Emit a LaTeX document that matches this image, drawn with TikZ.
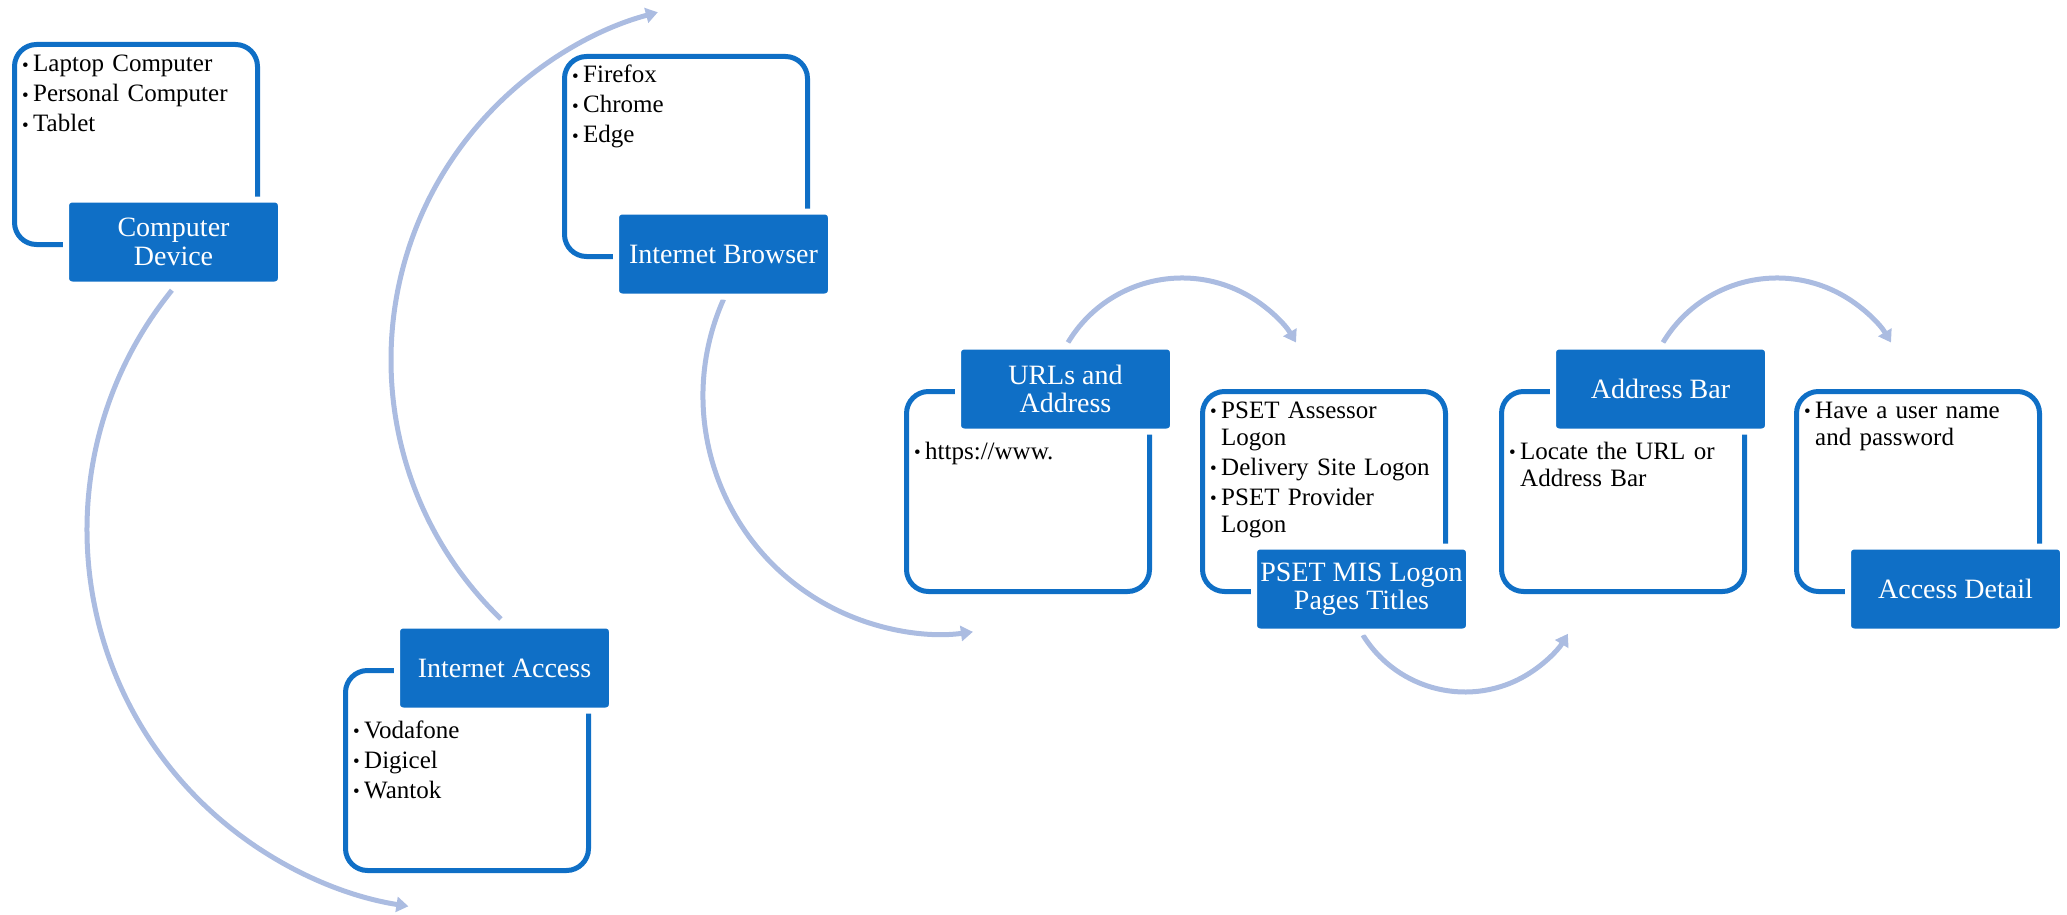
\documentclass[tikz,border=0pt]{standalone}
\usepackage{fontspec}
\setmainfont{Liberation Serif}
\usetikzlibrary{arrows.meta,calc}
\definecolor{mainblue}{HTML}{0F6FC6}
\definecolor{arrblue}{HTML}{ABBCE1}
\newcommand{\blt}{\makebox[11pt][l]{\fontsize{19}{19}\selectfont\raisebox{0.5pt}{\textbullet}}}
\newcommand{\ind}{\hspace*{11pt}}
\tikzset{
  outl/.style={draw=mainblue, line width=5pt, rounded corners=22pt, minimum width=243pt,
    minimum height=200pt, anchor=north west, inner sep=0pt},
  tbox/.style={fill=mainblue, draw=white, line width=6pt, rounded corners=6pt,
    minimum width=215pt, minimum height=85pt, text=white, align=center,
    font=\fontsize{28}{28.5}\selectfont, inner sep=0pt},
  blist/.style={anchor=base west, text width=232pt, align=left, inner sep=0pt,
    font=\fontsize{25}{27}\selectfont},
  arr/.style={draw=arrblue, line width=5pt, -{Triangle[length=12pt,width=15pt]}},
}
\begin{document}
\begin{tikzpicture}[x=1pt,y=-1pt]
\useasboundingbox (0,0) rectangle (2067,915);
% arrows (behind)
\coordinate (s1) at ($(468,530)+(-141:381)$);
\coordinate (s2) at ($(751,360)+(-226:360)$);
\coordinate (s3) at ($(941,396)+(-156:238)$);
\coordinate (s4) at ($(1182,411)+(-149:133)$);
\coordinate (s5) at ($(1465,572)+(-211.7:120)$);
\coordinate (s6) at ($(1777,411)+(-149:133)$);
\draw[arr] (s1) arc[start angle=-141, end angle=-261, radius=381];
\draw[arr] (s2) arc[start angle=-226, end angle=-105, radius=360];
\draw[arr] (s3) arc[start angle=-156, end angle=-277.7, radius=238];
\draw[arr] (s4) arc[start angle=-149, end angle=-31, radius=133];
\draw[arr] (s5) arc[start angle=-211.7, end angle=-329, radius=120];
\draw[arr] (s6) arc[start angle=-149, end angle=-31, radius=133];
% 1 Computer Device
\node[outl] (o1) at (12,42) {};
\node[tbox] (b1) at (173.5,242) {Computer\\Device};
\node[blist] (l1) at (22,72) {\blt Laptop Computer\\[3pt]\blt Personal Computer\\[3pt]\blt Tablet};
% 2 Internet Access
\node[outl] (o2) at (343,668) {};
\node[tbox] (b2) at (504.5,668) {Internet Access};
\node[blist] (l2) at (353,738) {\blt Vodafone\\[3pt]\blt Digicel\\[3pt]\blt Wantok};
% 3 Internet Browser
\node[outl] (o3) at (562,54) {};
\node[tbox] (b3) at (723.5,254) {Internet Browser};
\node[blist] (l3) at (572,83) {\blt Firefox\\[3pt]\blt Chrome\\[3pt]\blt Edge};
% 4 URLs and Address
\node[outl] (o4) at (904,389) {};
\node[tbox] (b4) at (1065.5,389) {URLs and\\Address};
\node[blist] (l4) at (914,459) {\blt https://www.};
% 5 PSET MIS Logon Pages Titles
\node[outl] (o5) at (1200,389) {};
\node[tbox] (b5) at (1361.5,589) {PSET MIS Logon\\Pages Titles};
\node[blist] (l5) at (1210,418) {\blt PSET Assessor\\\ind Logon\\[3pt]\blt Delivery Site Logon\\[3pt]\blt PSET Provider\\\ind Logon};
% 6 Address Bar
\node[outl] (o6) at (1499,389) {};
\node[tbox] (b6) at (1660.5,389) {Address Bar};
\node[blist] (l6) at (1509,459) {\blt Locate the URL or\\\ind Address Bar};
% 7 Access Detail
\node[outl] (o7) at (1794,389) {};
\node[tbox] (b7) at (1955.5,589) {Access Detail};
\node[blist] (l7) at (1804,418) {\blt Have a user name\\\ind and password};
\end{tikzpicture}
\end{document}
